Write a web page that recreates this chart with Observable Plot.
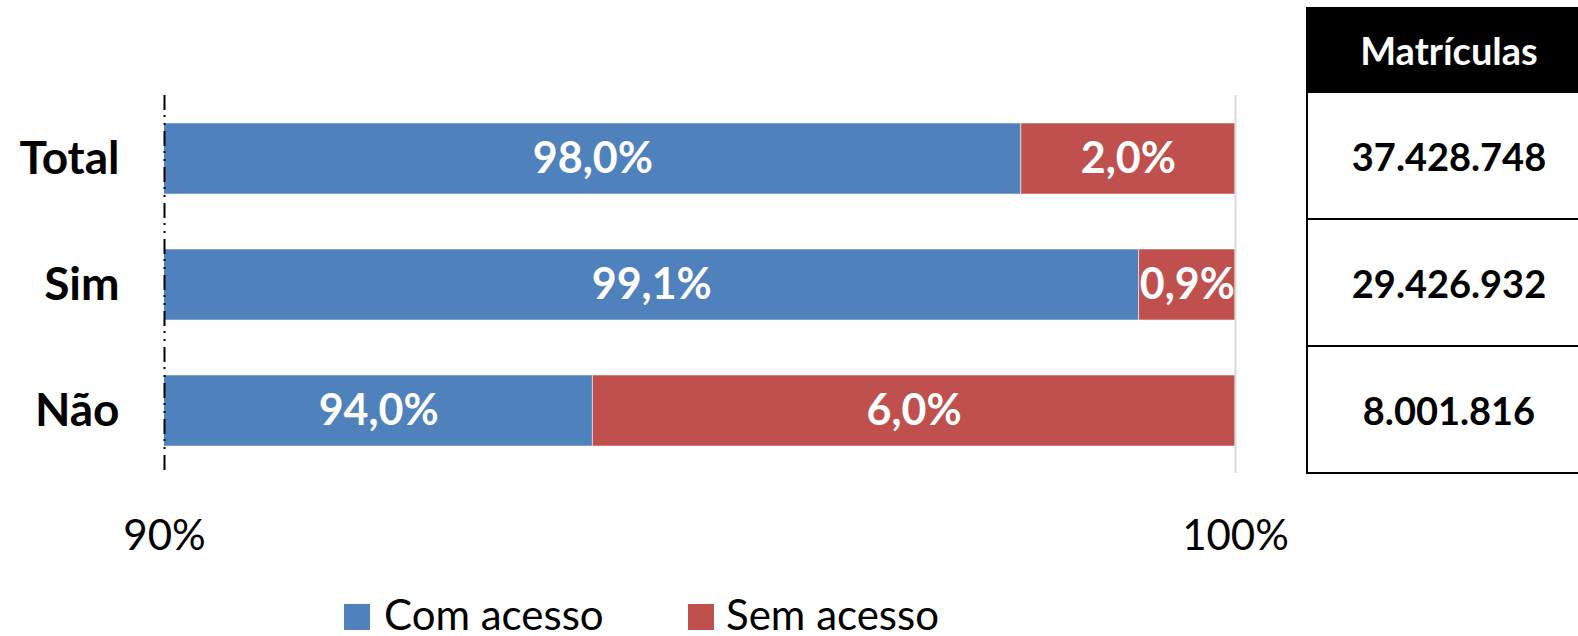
<!DOCTYPE html>
<html>
<head>
<meta charset="utf-8">
<script src="https://cdn.jsdelivr.net/npm/d3@7"></script>
<script src="https://cdn.jsdelivr.net/npm/@observablehq/plot@0.6"></script>
<style>
  html, body { margin: 0; padding: 0; background: #fff; overflow: hidden; }
  #wrap { position: relative; width: 1578px; height: 636px; overflow: hidden; font-family: Lato, "Open Sans", sans-serif; }
  #chart { position: absolute; left: 0; top: 0; }
  #table { position: absolute; left: 1306px; top: 7px; width: 282px; border-left: 2px solid #000; }
  #table .head { height: 86px; background: #000; color: #fff; font-weight: bold; font-size: 38px; display: flex; align-items: center; justify-content: center; }
  #table .row { box-sizing: border-box; height: 127px; border-bottom: 2px solid #000; font-weight: bold; font-size: 38px; color: #000; display: flex; align-items: center; justify-content: center; }
  .leg-sq { position: absolute; width: 26px; height: 26px; top: 604px; }
  .leg-tx { position: absolute; top: 596px; font-size: 42px; line-height: 36px; color: #000; white-space: nowrap; }
</style>
</head>
<body>
<div id="wrap">
  <div id="chart"></div>
  <div id="table"></div>
  <div id="legend"></div>
</div>
<script>
const categories = ["Total", "Sim", "Não"];
const series = ["Com acesso", "Sem acesso"];
const comAcesso = [98.0, 99.1, 94.0];
const semAcesso = [2.0, 0.9, 6.0];
const matriculas = [37428748, 29426932, 8001816];
const xTicks = [90, 100];
const colors = ["#4F81BD", "#C0504D"];

const ptBR = d3.formatLocale({decimal: ",", thousands: ".", grouping: [3], currency: ["R$", ""]});
const fmtPct = v => ptBR.format(".1f")(v) + "%";
const fmtInt = ptBR.format(",d");

const xDomain = [xTicks[0], xTicks[xTicks.length - 1]];

const rows = categories.flatMap((c, i) => [
  {cat: c, serie: series[0], value: comAcesso[i]},
  {cat: c, serie: series[1], value: semAcesso[i]}
]);

const labels = categories.flatMap((c, i) => [
  {cat: c, x: (Math.max(0, xDomain[0]) + comAcesso[i]) / 2, text: fmtPct(comAcesso[i])},
  {cat: c, x: (comAcesso[i] + Math.min(comAcesso[i] + semAcesso[i], xDomain[1])) / 2, text: fmtPct(semAcesso[i])}
]);

const plot = Plot.plot({
  width: 1578,
  height: 636,
  marginLeft: 164,
  marginRight: 343,
  marginTop: 95,
  marginBottom: 163,
  style: {fontFamily: "Lato, 'Open Sans', sans-serif", color: "#000", background: "transparent"},
  x: {domain: xDomain, axis: null},
  y: {domain: categories, paddingInner: 0.44, paddingOuter: 0.22, axis: null},
  color: {domain: series, range: colors},
  marks: [
    Plot.barX(rows, Plot.stackX({y: "cat", x: "value", fill: "serie", order: series, clip: true, stroke: "#ffffff", strokeOpacity: 0.55, strokeWidth: 1})),
    Plot.ruleX([xDomain[1]], {stroke: "#d9d9d9", strokeWidth: 2}),
    Plot.ruleX([xDomain[0]], {stroke: "#000", strokeWidth: 2, strokeDasharray: "15,5,2,6,2,6"}),
    Plot.text(labels, {x: "x", y: "cat", text: "text", fill: "#fff", fontSize: 43, fontWeight: "bold"}),
    Plot.text(categories, {y: d => d, frameAnchor: "left", textAnchor: "end", dx: -45, fontSize: 46, fontWeight: "bold", fill: "#000"}),
    Plot.axisX({ticks: xTicks, tickSize: 0, tickPadding: 47, tickFormat: d => d + "%", fontSize: 42, fill: "#000"})
  ]
});
document.getElementById("chart").appendChild(plot);

// table
const table = document.getElementById("table");
const head = document.createElement("div");
head.className = "head";
head.textContent = "Matrículas";
table.appendChild(head);
matriculas.forEach(v => {
  const r = document.createElement("div");
  r.className = "row";
  r.textContent = fmtInt(v);
  table.appendChild(r);
});

// legend
const legend = document.getElementById("legend");
const legPos = [[344, 384], [688, 726]];
series.forEach((s, i) => {
  const sq = document.createElement("div");
  sq.className = "leg-sq";
  sq.style.left = legPos[i][0] + "px";
  sq.style.background = colors[i];
  legend.appendChild(sq);
  const tx = document.createElement("div");
  tx.className = "leg-tx";
  tx.style.left = legPos[i][1] + "px";
  tx.textContent = s;
  legend.appendChild(tx);
});
</script>
</body>
</html>
